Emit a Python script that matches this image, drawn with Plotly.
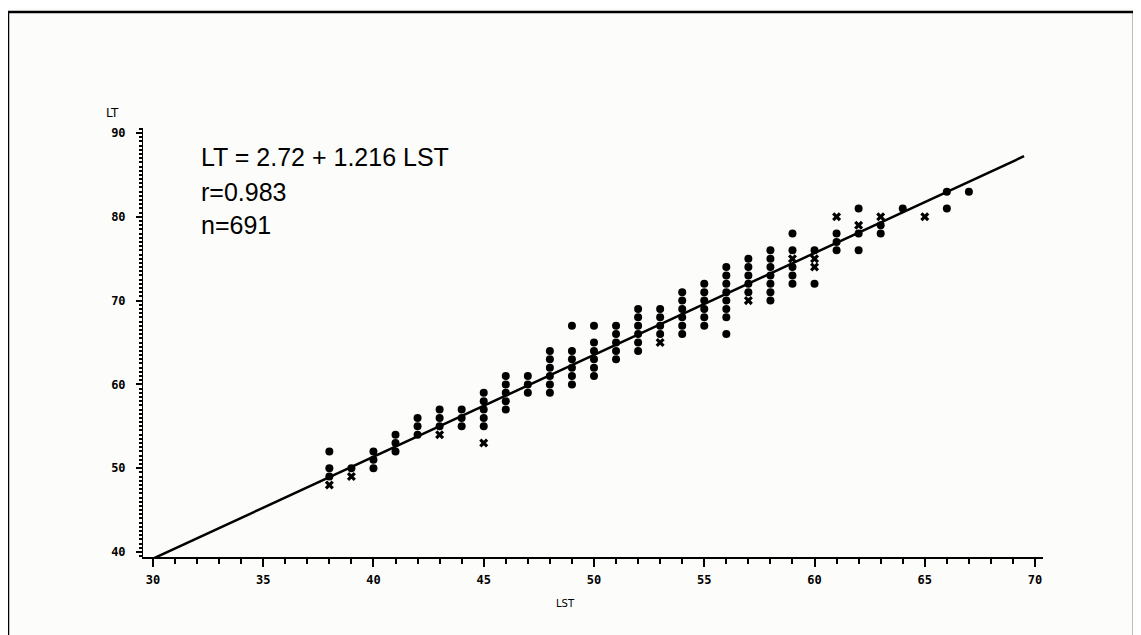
import plotly.graph_objects as go

# LST columns (integer values) and the LT readings plotted in each column
lst_columns = [38, 39, 40, 41, 42, 43, 44, 45, 46, 47, 48, 49, 50, 51, 52,
               53, 54, 55, 56, 57, 58, 59, 60, 61, 62, 63, 64, 65, 66, 67]
lt_dots = [
    [52, 50, 49], [50], [52, 51, 50], [54, 53, 52], [56, 55, 54],
    [57, 56, 55], [57, 56, 55], [59, 58, 57, 56, 55], [61, 60, 59, 58, 57], [61, 60, 59],
    [64, 63, 62, 61, 60, 59], [67, 64, 63, 62, 61, 60], [67, 65, 64, 63, 62, 61],
    [67, 66, 65, 64, 63], [69, 68, 67, 66, 65, 64],
    [69, 68, 67, 66], [71, 70, 69, 68, 67, 66], [72, 71, 70, 69, 68, 67],
    [74, 73, 72, 71, 70, 69, 68, 66], [75, 74, 73, 72, 71],
    [76, 75, 74, 73, 72, 71, 70], [78, 76, 74, 73, 72], [76, 72], [78, 77, 76], [81, 78, 76],
    [79, 78], [81], [], [83, 81], [83],
]
lt_crosses = [
    [48], [49], [], [], [], [54], [], [53], [], [],
    [], [], [], [], [],
    [65], [], [], [], [70],
    [], [75], [75, 74], [80], [79],
    [80], [], [80], [], [],
]

# regression line
intercept = 2.72
slope = 1.216
line_lst = [30.0, 69.5]

dot_x = [c for c, col in zip(lst_columns, lt_dots) for _ in col]
dot_y = [v for col in lt_dots for v in col]
cross_x = [c for c, col in zip(lst_columns, lt_crosses) for _ in col]
cross_y = [v for col in lt_crosses for v in col]
line_lt = [intercept + slope * x for x in line_lst]

fig = go.Figure()
fig.add_trace(go.Scatter(x=line_lst, y=line_lt, mode="lines",
                         line=dict(color="black", width=2.5), hoverinfo="skip"))
fig.add_trace(go.Scatter(x=dot_x, y=dot_y, mode="markers",
                         marker=dict(symbol="circle", size=8, color="black")))
fig.add_trace(go.Scatter(x=cross_x, y=cross_y, mode="markers",
                         marker=dict(symbol="x", size=8, color="black",
                                     line=dict(width=0))))

# page body adds an 8px offset; positions below are in window pixels
OFF = 8
L, T = 143 - OFF, 128 - OFF
R = 1141 - (1043 - OFF)
B = 635 - (557 - OFF)
W, H = 1141 - L - R, 635 - T - B


def px(xp):
    return (xp - OFF - L) / W


def py(yp):
    return (635 - B - (yp - OFF)) / H


tick_font = dict(family="DejaVu Sans Mono", size=12, color="black", weight="bold")

fig.update_layout(
    width=1141, height=635,
    margin=dict(l=L, r=R, t=T, b=B),
    paper_bgcolor="#fcfcfa", plot_bgcolor="#fcfcfa",
    showlegend=False,
    xaxis=dict(range=[29.55, 70.36], showgrid=False, zeroline=False,
               showline=True, linecolor="black", linewidth=2,
               tickvals=[30, 35, 40, 45, 50, 55, 60, 65, 70],
               ticks="outside", ticklen=8, tickwidth=1.5, tickcolor="black",
               minor=dict(dtick=1, ticks="outside", ticklen=5, tickwidth=1.5, tickcolor="black"),
               tickfont=tick_font, ticklabelstandoff=3),
    yaxis=dict(range=[39.4, 90.6], showgrid=False, zeroline=False,
               showline=True, linecolor="black", linewidth=1,
               tickvals=[40, 50, 60, 70, 80, 90],
               ticks="outside", ticklen=6, tickwidth=1.5, tickcolor="black",
               minor=dict(dtick=0.5, ticks="outside", ticklen=3, tickwidth=1.5, tickcolor="black"),
               tickfont=tick_font, ticklabelstandoff=8),
    shapes=[dict(type="rect", xref="paper", yref="paper",
                 x0=px(8), x1=px(1134), y0=py(640), y1=py(12),
                 line=dict(color="black", width=2.5))],
)

label_font = dict(family="Liberation Sans", size=25, color="black")
for text, ypix in [("LT = 2.72 + 1.216 LST", 157), ("r=0.983", 192), ("n=691", 225)]:
    fig.add_annotation(x=px(199), y=py(ypix), xref="paper", yref="paper",
                       text=text, showarrow=False, xanchor="left", yanchor="middle",
                       font=label_font)

fig.add_annotation(x=px(112), y=py(113), xref="paper", yref="paper", text="LT",
                   showarrow=False, xanchor="center", yanchor="middle",
                   font=dict(family="DejaVu Sans", size=12, color="black"))
fig.add_annotation(x=px(565), y=py(603), xref="paper", yref="paper", text="LST",
                   showarrow=False, xanchor="center", yanchor="middle",
                   font=dict(family="DejaVu Sans", size=10, color="black"))

fig.write_html("out.html")
